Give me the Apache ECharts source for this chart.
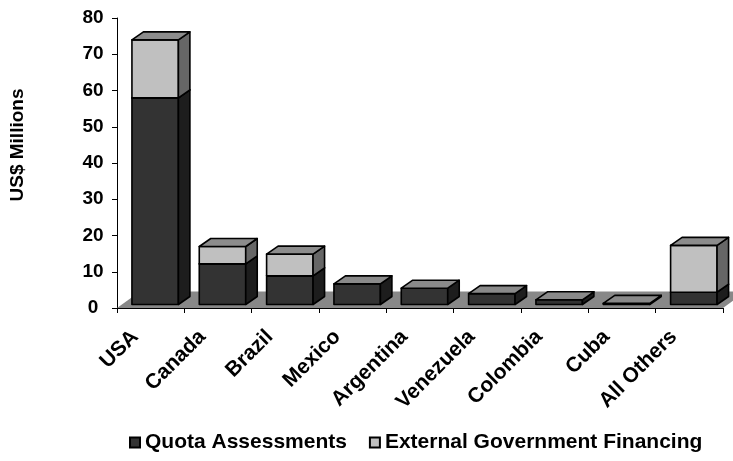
<!DOCTYPE html>
<html>
<head>
<meta charset="utf-8">
<script src="https://cdn.jsdelivr.net/npm/echarts@6/dist/echarts.min.js"></script>
<style>
  html, body { margin: 0; padding: 0; background: #fff; }
  #chart { width: 733px; height: 461px; }
</style>
</head>
<body>
<div id="chart"></div>
<script>
// Contributions by member state, US$ millions
const categories = ['USA', 'Canada', 'Brazil', 'Mexico', 'Argentina', 'Venezuela', 'Colombia', 'Cuba', 'All Others'];
const quotaAssessments = [57.0, 11.2, 7.9, 5.7, 4.5, 3.0, 1.3, 0.3, 3.4];
const externalFinancing = [16.0, 4.8, 6.0, 0, 0, 0, 0, 0, 12.9];
const yTicks = [0, 10, 20, 30, 40, 50, 60, 70, 80];

const FONT = '"Liberation Sans", Arial, sans-serif';

// oblique projection of the column depth
const FRONT_DX = 4.5, FRONT_DY = 3.5;   // column front face set back from floor edge
const DEPTH_DX = 11.5, DEPTH_DY = 8;    // column depth
const FLOOR_DX = 23, FLOOR_DY = 16.5;   // floor depth

const palette = {
  quota:    { front: '#333333', side: '#1d1d1d', top: '#8a8a8a' },
  external: { front: '#c0c0c0', side: '#666666', top: '#8c8c8c' }
};

// Stack bases
const quotaBase = quotaAssessments.map(() => 0);
const externalBase = quotaAssessments.slice();

function boxRenderer(values, bases, colors) {
  return function (params, api) {
    const i = api.value(0);
    const v = values[i];
    if (!v) return;
    const base = bases[i];
    const band = api.size([1, 0])[0];
    const c0 = api.coord([i, 0]);
    const cLo = api.coord([i, base]);
    const cHi = api.coord([i, base + v]);
    const w = band * 0.69;
    const left = c0[0] - w / 2 + FRONT_DX;
    const right = left + w;
    const yb = cLo[1] - FRONT_DY;
    const yt = cHi[1] - FRONT_DY;
    const line = { stroke: '#000', lineWidth: 1.6, lineJoin: 'round' };
    return {
      type: 'group',
      children: [
        {
          type: 'polygon',
          shape: { points: [[left, yb], [right, yb], [right, yt], [left, yt]] },
          style: Object.assign({ fill: colors.front }, line)
        },
        {
          type: 'polygon',
          shape: { points: [[right, yb], [right + DEPTH_DX, yb - DEPTH_DY], [right + DEPTH_DX, yt - DEPTH_DY], [right, yt]] },
          style: Object.assign({ fill: colors.side }, line)
        },
        {
          type: 'polygon',
          shape: { points: [[left, yt], [right, yt], [right + DEPTH_DX, yt - DEPTH_DY], [left + DEPTH_DX, yt - DEPTH_DY]] },
          style: Object.assign({ fill: colors.top }, line)
        }
      ]
    };
  };
}

function floorRenderer(params, api) {
  const cs = params.coordSys;
  const y0 = cs.y + cs.height;
  const x0 = cs.x, x1 = cs.x + cs.width;
  return {
    type: 'polygon',
    shape: { points: [[x0, y0], [x1, y0], [x1 + FLOOR_DX, y0 - FLOOR_DY], [x0 + FLOOR_DX, y0 - FLOOR_DY]] },
    style: { fill: '#888888', stroke: null }
  };
}

const idx = categories.map((_, i) => [i]);

const chart = echarts.init(document.getElementById('chart'), null, { renderer: 'canvas' });
chart.setOption({
  animation: false,
  backgroundColor: '#ffffff',
  grid: { left: 117, right: 10, top: 18, bottom: 153, containLabel: false },
  legend: {
    left: 124, top: 427,
    itemWidth: 10, itemHeight: 10, itemGap: 22,
    icon: 'rect',
    textStyle: { fontFamily: FONT, fontWeight: 'bold', fontSize: 21, color: '#000' },
    data: ['Quota Assessments', 'External Government Financing']
  },
  xAxis: {
    type: 'category',
    data: categories,
    boundaryGap: true,
    axisLine: { show: true, lineStyle: { color: '#000', width: 1 } },
    axisTick: { show: true, length: 5, alignWithLabel: false, lineStyle: { color: '#000' } },
    axisLabel: {
      interval: 0, rotate: 45, margin: 10, padding: [0, 22, 0, 0],
      fontFamily: FONT, fontWeight: 'bold', fontSize: 21, color: '#000'
    },
    splitLine: { show: false }
  },
  yAxis: {
    type: 'value',
    min: yTicks[0], max: yTicks[yTicks.length - 1], interval: 10,
    name: 'US$ Millions',
    nameLocation: 'middle', nameRotate: 90, nameGap: 90,
    nameTextStyle: { fontFamily: FONT, fontWeight: 'bold', fontSize: 19, color: '#000', padding: [0, 0, 0, 36] },
    axisLine: { show: true, lineStyle: { color: '#000', width: 1 } },
    axisTick: { show: true, length: 5, lineStyle: { color: '#000' } },
    axisLabel: { margin: 24, align: 'center', fontFamily: FONT, fontWeight: 'bold', fontSize: 19, color: '#000' },
    splitLine: { show: false }
  },
  series: [
    {
      name: 'floor', type: 'custom', data: [[0]], silent: true, z: 1,
      renderItem: floorRenderer
    },
    {
      name: 'Quota Assessments', type: 'custom', data: idx, z: 2,
      encode: { x: 0 },
      itemStyle: { color: palette.quota.front, borderColor: '#000', borderWidth: 1 },
      renderItem: boxRenderer(quotaAssessments, quotaBase, palette.quota)
    },
    {
      name: 'External Government Financing', type: 'custom', data: idx, z: 3,
      encode: { x: 0 },
      itemStyle: { color: palette.external.front, borderColor: '#000', borderWidth: 1 },
      renderItem: boxRenderer(externalFinancing, externalBase, palette.external)
    }
  ]
});
</script>
</body>
</html>
